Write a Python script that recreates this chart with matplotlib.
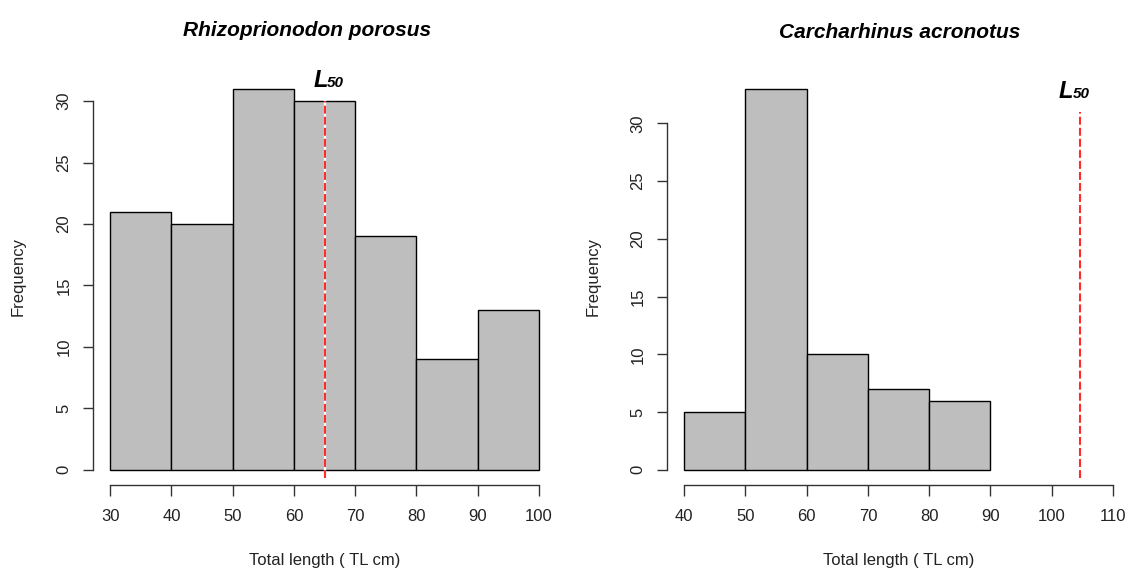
import matplotlib
matplotlib.use("Agg")
import matplotlib.pyplot as plt
import numpy as np

# ---- data ----
left_title = "Rhizoprionodon porosus"
left_edges = [30, 40, 50, 60, 70, 80, 90, 100]
left_counts = [21, 20, 31, 30, 19, 9, 13]
left_l50 = 65
left_l50_top = 30

right_title = "Carcharhinus acronotus"
right_edges = [40, 50, 60, 70, 80, 90]
right_counts = [5, 33, 10, 7, 6]
right_l50 = 104.7
right_l50_top = 31

left_xticks = [30, 40, 50, 60, 70, 80, 90, 100]
right_xticks = [40, 50, 60, 70, 80, 90, 100, 110]
yticks = [0, 5, 10, 15, 20, 25, 30]

xlabel = "Total length ( TL cm)"
ylabel = "Frequency"

plt.rcParams['font.family'] = ['Liberation Sans', 'DejaVu Sans']

W, H = 1129, 571
fig = plt.figure(figsize=(W / 100, H / 100), dpi=100)


def fx(px):
    return px / W


def fy(py):
    return 1 - py / H


def make_axes(l, r, t, b):
    return fig.add_axes([fx(l), fy(b), fx(r) - fx(l), fy(t) - fy(b)])


def draw_panel(ax, edges, counts, xticks, xrange_, ymax, l50, l50_top):
    lo, hi = xrange_
    ext = 0.04 * (hi - lo)
    ax.set_xlim(lo - ext, hi + ext)
    ax.set_ylim(-0.04 * ymax, ymax * 1.04)
    widths = np.diff(edges)
    ax.bar(edges[:-1], counts, width=widths, align='edge',
           color='#BEBEBE', edgecolor='black', linewidth=1.0, zorder=2)
    ax.plot([l50, l50], [-0.7, l50_top], color='white', lw=1.6, zorder=3)
    ax.plot([l50, l50], [-0.7, l50_top], color='#FF2A2A', lw=1.5,
            dashes=(3.8, 1.5), zorder=4)
    for s in ['top', 'right']:
        ax.spines[s].set_visible(False)
    ax.spines['left'].set_bounds(0, 30)
    ax.spines['bottom'].set_bounds(xticks[0], xticks[-1])
    for s in ['left', 'bottom']:
        ax.spines[s].set_color('#333333')
        ax.spines[s].set_linewidth(1.0)
    ax.set_xticks(xticks)
    ax.set_yticks(yticks)
    ax.tick_params(axis='x', length=8, width=1.0, pad=9.5, labelsize=12,
                   colors='#333333', labelcolor='#222222')
    ax.tick_params(axis='y', length=7.5, width=1.0, pad=8, labelsize=12,
                   colors='#333333', labelcolor='#222222', labelrotation=90)
    for lab in ax.get_yticklabels():
        lab.set_va('center')
    ax.patch.set_alpha(0)


# left panel
axL = make_axes(93, 556, 73.6, 485)
draw_panel(axL, left_edges, left_counts, left_xticks, (30, 100), 31,
           left_l50, left_l50_top)

# right panel
axR = make_axes(667, 1130, 73.6, 485)
draw_panel(axR, right_edges, right_counts, right_xticks, (40, 110), 33,
           right_l50, right_l50_top)

# titles
fig.text(fx(307), fy(31), left_title, ha='center', va='center',
         fontsize=15, fontweight='bold', fontstyle='italic')
fig.text(fx(900), fy(33), right_title, ha='center', va='center',
         fontsize=15, fontweight='bold', fontstyle='italic')

# axis labels
for cx in [(93 + 556) / 2, (667 + 1130) / 2]:
    fig.text(fx(cx), fy(560), xlabel, ha='center', va='center', fontsize=12,
             color='#222222')
fig.text(fx(18), fy(277), ylabel, ha='center', va='center', rotation=90,
         fontsize=12, color='#222222')
fig.text(fx(593), fy(277), ylabel, ha='center', va='center', rotation=90,
         fontsize=12, color='#222222')

# L50 labels
for (lx, ly, sx) in [(314, 87, 12.5), (1059, 98, 13.5)]:
    fig.text(fx(lx), fy(ly), "L", ha='left', va='baseline', fontsize=17,
             fontweight='bold', fontstyle='italic')
    fig.text(fx(lx + sx), fy(ly), "50", ha='left', va='baseline',
             fontsize=11, fontweight='bold', fontstyle='italic')

fig.savefig("out.png", dpi=100)
